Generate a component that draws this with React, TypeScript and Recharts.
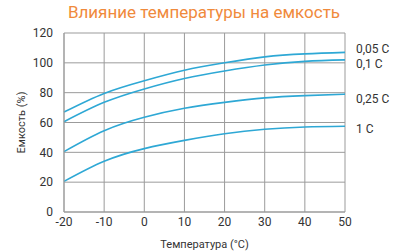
import { LineChart, Line, XAxis, YAxis, CartesianGrid } from 'recharts';

const temps = [-20, -10, 0, 10, 20, 30, 40, 50];
const c005 = [67, 79.5, 88, 95, 100, 104, 106, 107];
const c01 = [60.5, 73.5, 82.5, 89.5, 94.5, 98.5, 101, 102];
const c025 = [40.5, 54.5, 63.5, 69.5, 73.5, 76.5, 78, 79];
const c1 = [20.5, 34, 42.5, 48, 52.5, 55.5, 57, 57.5];

const seriesKeys = ['c005', 'c01', 'c025', 'c1'];
const seriesNames = ['0,05 C', '0,1 C', '0,25 C', '1 C'];
const labelShift = [-3.5, 4, 4.5, 2.5];

const xTicks = [-20, -10, 0, 10, 20, 30, 40, 50];
const yTicks = [0, 20, 40, 60, 80, 100, 120];

const data = temps.map((t, i) => ({
  t,
  c005: c005[i],
  c01: c01[i],
  c025: c025[i],
  c1: c1[i],
}));

const GRID = '#9b9b9b';
const LINE = '#2ea8d5';
const TEXT = '#333';
const FONT = 'Roboto, "Noto Sans", sans-serif';

export default function App() {
  return (
    <div style={{ position: 'absolute', left: 0, top: 0, width: 400, height: 251, background: '#fff', fontFamily: FONT }}>
      <div style={{ position: 'absolute', left: 0, top: 2, width: 408, textAlign: 'center', fontSize: 17, color: '#f08a3c' }}>
        Влияние температуры на емкость
      </div>
      <LineChart width={400} height={251} data={data} margin={{ top: 33, right: 55, bottom: 0, left: 0 }}>
        <CartesianGrid stroke={GRID} strokeWidth={1} />
        <XAxis
          dataKey="t"
          type="number"
          domain={[-20, 50]}
          ticks={xTicks}
          height={39}
          tickLine={false}
          tickSize={0}
          tickMargin={5}
          axisLine={{ stroke: GRID }}
          tick={{ fontSize: 12, fill: TEXT, fontFamily: FONT }}
          label={{ value: 'Температура (°С)', position: 'insideBottom', offset: 3, fontSize: 11, fill: TEXT, fontFamily: FONT }}
        />
        <YAxis
          domain={[0, 120]}
          ticks={yTicks}
          width={64}
          tickLine={false}
          tickSize={0}
          tickMargin={11}
          axisLine={{ stroke: GRID }}
          tick={{ fontSize: 12, fill: TEXT, fontFamily: FONT }}
          label={{ value: 'Емкость (%)', angle: -90, position: 'insideLeft', offset: 21, fontSize: 11, fill: TEXT, fontFamily: FONT, style: { textAnchor: 'middle' } }}
        />
        {seriesKeys.map((k, si) => (
          <Line
            key={k}
            dataKey={k}
            type="natural"
            stroke={LINE}
            strokeWidth={1.6}
            dot={false}
            isAnimationActive={false}
            label={(p: any) =>
              p.index === temps.length - 1 ? (
                <text key={k + '-lbl'} x={p.x + 11} y={p.y + labelShift[si]} dy="0.35em" fontSize={12} fill={TEXT} fontFamily={FONT}>
                  {seriesNames[si]}
                </text>
              ) : (
                <g key={k + '-' + p.index} />
              )
            }
          />
        ))}
      </LineChart>
    </div>
  );
}
